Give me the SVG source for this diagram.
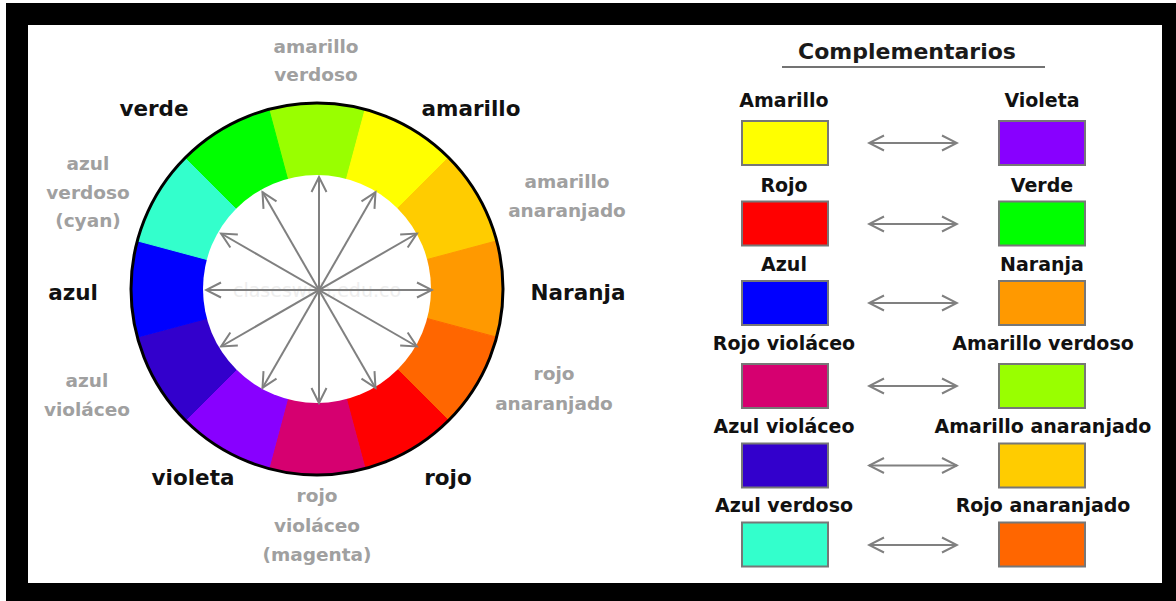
<svg xmlns="http://www.w3.org/2000/svg" width="1176" height="601" viewBox="0 0 1176 601">
<style>
.lbl{font-family:"DejaVu Sans",Verdana,sans-serif;font-weight:bold;text-anchor:middle}
.blk{font-size:21.5px;fill:#111111}
.gry{font-size:18.5px;fill:#a0a0a0}
.hdr{font-size:19px;fill:#111111}
.ttl{font-size:22px;fill:#1a1a1a}
.sw{stroke:#777777;stroke-width:2}
.arr{stroke:#808080;stroke-width:2;fill:none;marker-start:url(#ah);marker-end:url(#ah)}
</style>
<defs>
<marker id="ah" viewBox="-18 -10 20 20" refX="0" refY="0" markerWidth="20" markerHeight="20" markerUnits="userSpaceOnUse" orient="auto-start-reverse">
<path d="M-15,-7.5 L0,0 L-15,7.5" fill="none" stroke="#808080" stroke-width="2" stroke-linejoin="miter"/>
</marker>
</defs>
<rect x="0" y="0" width="1176" height="601" fill="#ffffff"/>
<rect x="6" y="3" width="1170" height="598" fill="#000000"/>
<rect x="28" y="25" width="1134" height="558" fill="#ffffff"/>

<g id="wheel">
<path d="M317,289 L268.86,109.338 A186,186 0 0 1 365.14,109.338 Z" fill="#99FF00" stroke="#99FF00"/>
<path d="M317,289 L365.14,109.338 A186,186 0 0 1 448.522,157.478 Z" fill="#FFFF00" stroke="#FFFF00"/>
<path d="M317,289 L448.522,157.478 A186,186 0 0 1 496.662,240.86 Z" fill="#FFCC00" stroke="#FFCC00"/>
<path d="M317,289 L496.662,240.86 A186,186 0 0 1 496.662,337.14 Z" fill="#FF9900" stroke="#FF9900"/>
<path d="M317,289 L496.662,337.14 A186,186 0 0 1 448.522,420.522 Z" fill="#FF6600" stroke="#FF6600"/>
<path d="M317,289 L448.522,420.522 A186,186 0 0 1 365.14,468.662 Z" fill="#FF0000" stroke="#FF0000"/>
<path d="M317,289 L365.14,468.662 A186,186 0 0 1 268.86,468.662 Z" fill="#D60070" stroke="#D60070"/>
<path d="M317,289 L268.86,468.662 A186,186 0 0 1 185.478,420.522 Z" fill="#8800FF" stroke="#8800FF"/>
<path d="M317,289 L185.478,420.522 A186,186 0 0 1 137.338,337.14 Z" fill="#3300CC" stroke="#3300CC"/>
<path d="M317,289 L137.338,337.14 A186,186 0 0 1 137.338,240.86 Z" fill="#0000FF" stroke="#0000FF"/>
<path d="M317,289 L137.338,240.86 A186,186 0 0 1 185.478,157.478 Z" fill="#33FFCC" stroke="#33FFCC"/>
<path d="M317,289 L185.478,157.478 A186,186 0 0 1 268.86,109.338 Z" fill="#00FF00" stroke="#00FF00"/>
<circle cx="317" cy="289" r="114" fill="#ffffff"/>
<circle cx="317" cy="289" r="186" fill="none" stroke="#000000" stroke-width="3"/>
<text x="317" y="297" style="font-family:'DejaVu Sans',sans-serif;font-size:19px;fill:#eeeeee;text-anchor:middle">clasesweb.edu.co</text>
</g>

<g id="wheel-labels" class="lbl">
<text class="gry" x="316" y="53">amarillo</text>
<text class="gry" x="316" y="81">verdoso</text>
<text class="blk" x="471" y="116">amarillo</text>
<text class="gry" x="567" y="188">amarillo</text>
<text class="gry" x="567" y="217">anaranjado</text>
<text class="blk" x="578" y="300">Naranja</text>
<text class="gry" x="554" y="380">rojo</text>
<text class="gry" x="554" y="410">anaranjado</text>
<text class="blk" x="448" y="485">rojo</text>
<text class="gry" x="317" y="502">rojo</text>
<text class="gry" x="317" y="532">violáceo</text>
<text class="gry" x="317" y="561">(magenta)</text>
<text class="blk" x="193" y="485">violeta</text>
<text class="gry" x="87" y="387">azul</text>
<text class="gry" x="87" y="416">violáceo</text>
<text class="blk" x="73" y="300">azul</text>
<text class="gry" x="88" y="170">azul</text>
<text class="gry" x="88" y="199">verdoso</text>
<text class="gry" x="88" y="227">(cyan)</text>
<text class="blk" x="154" y="116">verde</text>
</g>

<g id="title">
<text class="lbl ttl" x="907" y="59">Complementarios</text>
<line x1="782" y1="67" x2="1045" y2="67" stroke="#444444" stroke-width="1.5"/>
</g>

<g id="node-amarillo" class="lbl"><text class="hdr" x="784" y="107">Amarillo</text><rect class="sw" x="742" y="121" width="86" height="44" fill="#FFFF00"/></g>
<g id="node-violeta" class="lbl"><text class="hdr" x="1042" y="107">Violeta</text><rect class="sw" x="999" y="121" width="86" height="44" fill="#8800FF"/></g>
<g id="node-rojo" class="lbl"><text class="hdr" x="784" y="191.5">Rojo</text><rect class="sw" x="742" y="201.5" width="86" height="44" fill="#FF0000"/></g>
<g id="node-verde" class="lbl"><text class="hdr" x="1042" y="191.5">Verde</text><rect class="sw" x="999" y="201.5" width="86" height="44" fill="#00FF00"/></g>
<g id="node-azul" class="lbl"><text class="hdr" x="784" y="271">Azul</text><rect class="sw" x="742" y="281" width="86" height="44" fill="#0000FF"/></g>
<g id="node-naranja" class="lbl"><text class="hdr" x="1042" y="271">Naranja</text><rect class="sw" x="999" y="281" width="86" height="44" fill="#FF9900"/></g>
<g id="node-rojo-violaceo" class="lbl"><text class="hdr" x="784" y="350">Rojo violáceo</text><rect class="sw" x="742" y="364" width="86" height="44" fill="#D60070"/></g>
<g id="node-amarillo-verdoso" class="lbl"><text class="hdr" x="1043" y="350">Amarillo verdoso</text><rect class="sw" x="999" y="364" width="86" height="44" fill="#99FF00"/></g>
<g id="node-azul-violaceo" class="lbl"><text class="hdr" x="784" y="433">Azul violáceo</text><rect class="sw" x="742" y="443.5" width="86" height="44" fill="#3300CC"/></g>
<g id="node-amarillo-anaranjado" class="lbl"><text class="hdr" x="1043" y="433">Amarillo anaranjado</text><rect class="sw" x="999" y="443.5" width="86" height="44" fill="#FFCC00"/></g>
<g id="node-azul-verdoso" class="lbl"><text class="hdr" x="784" y="512">Azul verdoso</text><rect class="sw" x="742" y="522.5" width="86" height="44" fill="#33FFCC"/></g>
<g id="node-rojo-anaranjado" class="lbl"><text class="hdr" x="1043" y="512">Rojo anaranjado</text><rect class="sw" x="999" y="522.5" width="86" height="44" fill="#FF6600"/></g>

<g id="connectors">
<line class="arr" x1="206" y1="290" x2="432" y2="290"/>
<line class="arr" x1="221.1" y1="346.5" x2="416.9" y2="233.5"/>
<line class="arr" x1="262.5" y1="387.9" x2="375.5" y2="192.1"/>
<line class="arr" x1="319" y1="403" x2="319" y2="177"/>
<line class="arr" x1="375.5" y1="387.9" x2="262.5" y2="192.1"/>
<line class="arr" x1="416.9" y1="346.5" x2="221.1" y2="233.5"/>
<line class="arr" x1="869" y1="143" x2="957" y2="143"/>
<line class="arr" x1="869" y1="224" x2="957" y2="224"/>
<line class="arr" x1="869" y1="303" x2="957" y2="303"/>
<line class="arr" x1="869" y1="386" x2="957" y2="386"/>
<line class="arr" x1="869" y1="465.5" x2="957" y2="465.5"/>
<line class="arr" x1="869" y1="545" x2="957" y2="545"/>
</g>
</svg>
